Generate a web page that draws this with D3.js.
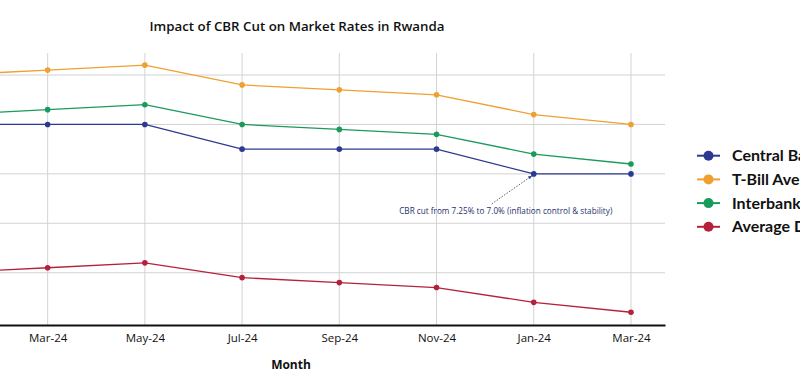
<!DOCTYPE html>
<html><head><meta charset="utf-8">
<script src="https://cdn.jsdelivr.net/npm/d3@7"></script>
<style>body{margin:0;background:#fff;overflow:hidden}svg{display:block}</style>
</head><body>
<svg id="c" width="800" height="390"></svg>
<script>
const months = ["Jan-24","Mar-24","May-24","Jul-24","Sep-24","Nov-24","Jan-24","Mar-24"];
const centralBank = [7.5, 7.5, 7.5, 7.25, 7.25, 7.25, 7.0, 7.0];
const tBill = [8.0, 8.05, 8.1, 7.9, 7.85, 7.8, 7.6, 7.5];
const interbank = [7.6, 7.65, 7.7, 7.5, 7.45, 7.4, 7.2, 7.1];
const deposit = [6.0, 6.05, 6.1, 5.95, 5.9, 5.85, 5.7, 5.6];
const seriesNames = ["Central Bank Rate","T-Bill Average","Interbank Rate","Average Deposit Rate"];
const yTicks = [6.0, 6.5, 7.0, 7.5, 8.0];
const annotationText = "CBR cut from 7.25% to 7.0% (inflation control & stability)";

const colors = ["#2b3990","#f0a030","#1a9a5c","#b5213a"];
const series = [centralBank, tBill, interbank, deposit].map((v,i)=>({name:seriesNames[i], values:v, color:colors[i]}));

const svg = d3.select("#c");
const font = "'Open Sans', 'Noto Sans', sans-serif";
const L = -83.6, R = 665, T = 53, B = 325;

const x = d3.scalePoint().domain(d3.range(months.length)).range([L, R]).padding(0.35);
const y = d3.scaleLinear().domain([5.471, 8.223]).range([B, T]);

// grid
const g = svg.append("g");
g.selectAll(".hg").data(yTicks).join("line")
  .attr("x1", L).attr("x2", R).attr("y1", d=>y(d)).attr("y2", d=>y(d))
  .attr("stroke", "#d3d3d3").attr("stroke-width", 1);
g.selectAll(".vg").data(d3.range(months.length)).join("line")
  .attr("x1", d=>x(d)).attr("x2", d=>x(d)).attr("y1", T).attr("y2", B)
  .attr("stroke", "#d3d3d3").attr("stroke-width", 1);

// x axis
const xAxis = svg.append("g").attr("transform", `translate(0,${B})`)
  .call(d3.axisBottom(x).tickFormat(i=>months[i]).tickSize(0).tickPadding(9));
xAxis.select(".domain").attr("stroke", "#111").attr("stroke-width", 2);
xAxis.selectAll("text").attr("font-family", font).attr("font-size", 11.5).attr("fill", "#111");

// lines
const line = d3.line().x((d,i)=>x(i)).y(d=>y(d));
series.forEach(s=>{
  svg.append("path").datum(s.values).attr("d", line)
    .attr("fill","none").attr("stroke", s.color).attr("stroke-width", 1.3);
  svg.append("g").selectAll("circle").data(s.values).join("circle")
    .attr("cx",(d,i)=>x(i)).attr("cy", d=>y(d)).attr("r", 2.8).attr("fill", s.color);
});

// annotation
const ai = 6, av = centralBank[6];
const px = x(ai), py = y(av);
const tx = px - 28, ty = py + 37;
svg.append("defs").append("marker").attr("id","ah").attr("viewBox","0 0 10 10")
  .attr("refX",9).attr("refY",5).attr("markerWidth",5).attr("markerHeight",5).attr("orient","auto")
  .append("path").attr("d","M0,1 L10,5 L0,9 Z").attr("fill","#2b3990");
svg.append("line").attr("x1", px-42).attr("y1", ty-7).attr("x2", px-2).attr("y2", py+2)
  .attr("stroke","#333").attr("stroke-width",0.8).attr("stroke-dasharray","1.5,1.5")
  .attr("marker-end","url(#ah)");
svg.append("text").attr("x", tx).attr("y", ty+3).attr("text-anchor","middle")
  .attr("font-family", font).attr("font-size", 8.2).attr("fill","#26306e").text(annotationText);

// title
svg.append("text").attr("x", 297).attr("y", 31).attr("text-anchor","middle")
  .attr("font-family", font).attr("font-weight", 600).attr("font-size", 13.3).attr("fill","#111")
  .text("Impact of CBR Cut on Market Rates in Rwanda");

// x title
svg.append("text").attr("x", 291).attr("y", 369).attr("text-anchor","middle")
  .attr("font-family", font).attr("font-weight", 700).attr("font-size", 12).attr("fill","#111")
  .text("Month");

// legend
const lg = svg.append("g");
series.forEach((s,i)=>{
  const cy = 155.7 + i*23.7;
  lg.append("line").attr("x1",697).attr("x2",720).attr("y1",cy).attr("y2",cy).attr("stroke",s.color).attr("stroke-width",2);
  lg.append("circle").attr("cx",708.5).attr("cy",cy).attr("r",5).attr("fill",s.color);
  lg.append("text").attr("x",732).attr("y",cy+5.5).attr("font-family","Lato, 'Open Sans', sans-serif").attr("font-weight",700)
    .attr("font-size",16).attr("fill","#111").text(s.name);
});
</script>
</body></html>
